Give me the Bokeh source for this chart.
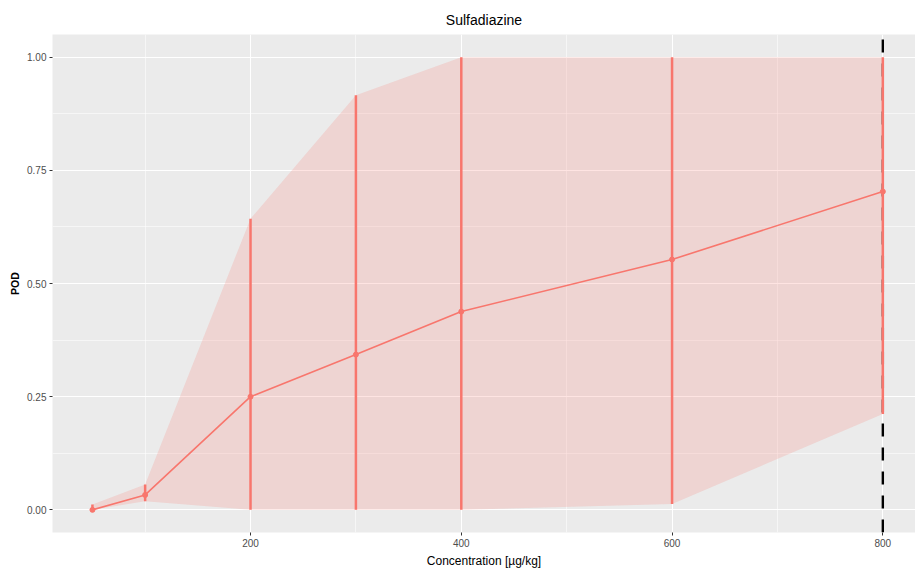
from bokeh.plotting import figure
from bokeh.models import FixedTicker, Range1d, NumeralTickFormatter, ColumnDataSource
from bokeh.embed import file_html
from bokeh.resources import INLINE

# ---- data ----
concentration = [50, 100, 200, 300, 400, 600, 800]
pod = [0.0, 0.033, 0.25, 0.343, 0.438, 0.553, 0.703]
pod_lower = [0.0, 0.019, 0.0, 0.0, 0.0, 0.013, 0.212]
pod_upper = [0.012, 0.056, 0.643, 0.916, 1.0, 1.0, 1.0]
vline_x = 800

x_ticks = [200, 400, 600, 800]
x_minor = [100, 300, 500, 700]
y_ticks = [0.0, 0.25, 0.5, 0.75, 1.0]
y_minor = [0.125, 0.375, 0.625, 0.875]

X_LO, X_HI = 12.1, 831.0
Y_LO, Y_HI = -0.05, 1.05

RED = "#F8766D"
FONT = "Liberation Sans"

src = ColumnDataSource(dict(x=concentration, y=pod, lo=pod_lower, hi=pod_upper))

p = figure(width=915, height=574, output_backend="svg", toolbar_location=None,
           x_range=Range1d(X_LO, X_HI), y_range=Range1d(Y_LO, Y_HI),
           min_border_left=52, min_border_right=0, min_border_top=34, min_border_bottom=42,
           background_fill_color="#EBEBEB", border_fill_color="white")
p.outline_line_color = None

# title
p.title.text = "Sulfadiazine"
p.title.align = "center"
p.title.text_font = FONT
p.title.text_font_size = "14px"
p.title.text_font_style = "normal"
p.title.text_color = "#000000"
p.title.standoff = 14

# grids
for g in (p.xgrid, p.ygrid):
    g.grid_line_color = "white"
    g.grid_line_width = 1.1
    g.minor_grid_line_color = "white"
    g.minor_grid_line_width = 0.55
p.xaxis.ticker = FixedTicker(ticks=x_ticks, minor_ticks=x_minor)
p.yaxis.ticker = FixedTicker(ticks=y_ticks, minor_ticks=y_minor)
p.yaxis.formatter = NumeralTickFormatter(format="0.00")

for ax in (p.xaxis, p.yaxis):
    ax.axis_line_color = None
    ax.major_tick_line_color = "#333333"
    ax.major_tick_line_width = 1
    ax.major_tick_out = 3
    ax.major_tick_in = 0
    ax.minor_tick_line_color = None
    ax.major_label_text_font = FONT
    ax.major_label_text_font_size = "10px"
    ax.major_label_text_color = "#4D4D4D"
    ax.major_label_standoff = 2
    ax.axis_label_text_font = FONT
    ax.axis_label_text_color = "#000000"

p.xaxis.axis_label = "Concentration [µg/kg]"
p.xaxis.axis_label_text_font_size = "12px"
p.xaxis.axis_label_text_font_style = "normal"
p.xaxis.axis_label_standoff = 4

p.yaxis.axis_label = "POD"
p.yaxis.axis_label_text_font_size = "10.5px"
p.yaxis.axis_label_text_font_style = "bold"
p.yaxis.axis_label_standoff = 3

# dashed vertical reference line (drawn beneath the error bars)
p.line(x=[vline_x, vline_x], y=[Y_LO, Y_HI], line_color="black", line_width=2.4,
       line_dash="13 11")

# ribbon
p.varea(x="x", y1="lo", y2="hi", source=src, fill_color=RED, fill_alpha=0.2)

# error bars
p.segment(x0="x", y0="lo", x1="x", y1="hi", source=src, line_color=RED, line_width=2.5)

# line + points
p.line(x="x", y="y", source=src, line_color=RED, line_width=1.6)
p.scatter(x="x", y="y", source=src, size=5, fill_color=RED, line_color=RED)

open("out.html", "w").write(file_html(p, INLINE))
